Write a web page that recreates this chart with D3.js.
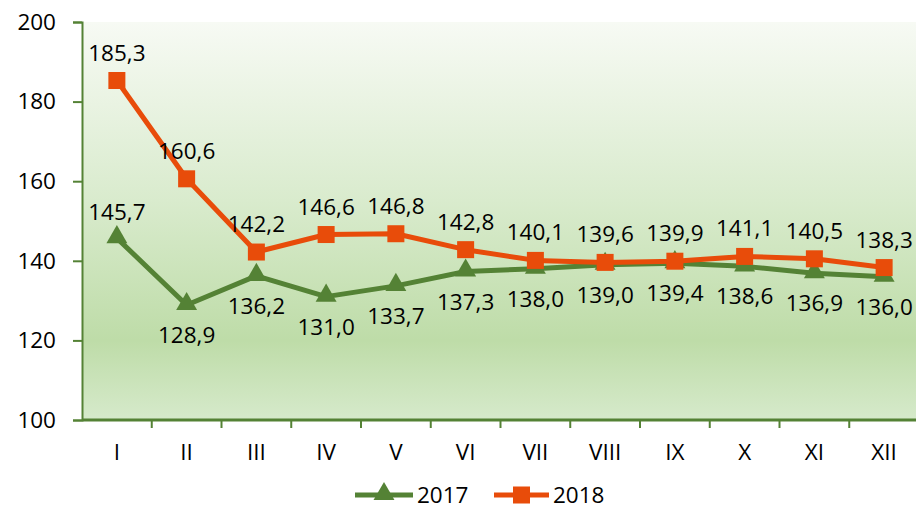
<!DOCTYPE html>
<html>
<head>
<meta charset="utf-8">
<script src="https://cdn.jsdelivr.net/npm/d3@7"></script>
<style>
  body { margin: 0; background: #fff; }
  svg { display: block; }
  svg text { font-family: "Open Sans", "Liberation Sans", sans-serif; fill: #000; }
</style>
</head>
<body>
<svg id="chart" width="916" height="510"></svg>
<script>
// data
var months = ["I", "II", "III", "IV", "V", "VI", "VII", "VIII", "IX", "X", "XI", "XII"];
var values2017 = [145.7, 128.9, 136.2, 131.0, 133.7, 137.3, 138.0, 139.0, 139.4, 138.6, 136.9, 136.0];
var values2018 = [185.3, 160.6, 142.2, 146.6, 146.8, 142.8, 140.1, 139.6, 139.9, 141.1, 140.5, 138.3];
var yTicks = [100, 120, 140, 160, 180, 200];

var green = "#548235", orange = "#e84c0a";
var fs = 22.5;

var svg = d3.select("#chart");
var plotLeft = 82, plotRight = 919, plotTop = 22, plotBottom = 420;

var x = d3.scaleBand().domain(months).range([plotLeft, plotRight]);
var y = d3.scaleLinear().domain([100, 200]).range([plotBottom, plotTop]);

// plot background gradient
var defs = svg.append("defs");
var grad = defs.append("linearGradient").attr("id", "bg")
    .attr("x1", 0).attr("y1", 0).attr("x2", 0).attr("y2", 1);
grad.append("stop").attr("offset", "0%").attr("stop-color", "#f7faf4");
grad.append("stop").attr("offset", "45%").attr("stop-color", "#d9ebcd");
grad.append("stop").attr("offset", "80%").attr("stop-color", "#bedca8");
grad.append("stop").attr("offset", "100%").attr("stop-color", "#d6eacb");

svg.append("rect")
    .attr("x", plotLeft).attr("y", plotTop)
    .attr("width", plotRight - plotLeft).attr("height", plotBottom - plotTop)
    .attr("fill", "url(#bg)");

// y axis
var yAxis = svg.append("g")
    .attr("transform", "translate(" + plotLeft + ",0)")
    .call(d3.axisLeft(y).tickValues(yTicks).tickSize(9).tickPadding(17));
yAxis.select(".domain").attr("stroke", green).attr("stroke-width", 2);
yAxis.selectAll(".tick line").attr("stroke", green).attr("stroke-width", 2);
yAxis.selectAll("text").attr("font-size", fs).attr("fill", "#000");

// x axis - ticks between categories
var xAxis = svg.append("g")
    .attr("transform", "translate(0," + plotBottom + ")");
xAxis.append("line")
    .attr("x1", plotLeft).attr("x2", plotRight)
    .attr("stroke", green).attr("stroke-width", 3);
xAxis.selectAll(".tk")
    .data(months.slice(1))
    .enter().append("line")
    .attr("x1", function (d) { return x(d); })
    .attr("x2", function (d) { return x(d); })
    .attr("y1", 0).attr("y2", 8)
    .attr("stroke", green).attr("stroke-width", 2);
xAxis.selectAll(".lb")
    .data(months)
    .enter().append("text")
    .attr("x", function (d) { return x(d) + x.bandwidth() / 2; })
    .attr("y", 40)
    .attr("text-anchor", "middle")
    .attr("font-size", fs)
    .text(function (d) { return d; });

var cx = function (d, i) { return x(months[i]) + x.bandwidth() / 2; };
var line = d3.line()
    .x(function (d, i) { return cx(d, i); })
    .y(function (d) { return y(d); });

var fmt = function (v) { return v.toFixed(1).replace(".", ","); };

// 2017 series
svg.append("path")
    .datum(values2017)
    .attr("d", line)
    .attr("fill", "none")
    .attr("stroke", green)
    .attr("stroke-width", 5)
    .attr("stroke-linejoin", "round");
svg.selectAll(".tri")
    .data(values2017)
    .enter().append("path")
    .attr("d", d3.symbol().type(d3.symbolTriangle).size(190))
    .attr("transform", function (d, i) { return "translate(" + cx(d, i) + "," + (y(d) - 1) + ")"; })
    .attr("fill", green);

// 2018 series
svg.append("path")
    .datum(values2018)
    .attr("d", line)
    .attr("fill", "none")
    .attr("stroke", orange)
    .attr("stroke-width", 5)
    .attr("stroke-linejoin", "round");
svg.selectAll(".sq")
    .data(values2018)
    .enter().append("rect")
    .attr("x", function (d, i) { return cx(d, i) - 8.5; })
    .attr("y", function (d) { return y(d) - 8.5; })
    .attr("width", 17).attr("height", 17)
    .attr("fill", orange);

// data labels
svg.selectAll(".l2018")
    .data(values2018)
    .enter().append("text")
    .attr("x", function (d, i) { return cx(d, i); })
    .attr("y", function (d) { return y(d) - 20; })
    .attr("text-anchor", "middle")
    .attr("font-size", fs)
    .text(fmt);

svg.selectAll(".l2017")
    .data(values2017)
    .enter().append("text")
    .attr("x", function (d, i) { return cx(d, i); })
    .attr("y", function (d, i) { return i === 0 ? y(d) - 18 : y(d) + 38; })
    .attr("text-anchor", "middle")
    .attr("font-size", fs)
    .text(fmt);

// legend
var legend = svg.append("g").attr("transform", "translate(0,495)");
legend.append("line").attr("x1", 355).attr("x2", 413).attr("stroke", green).attr("stroke-width", 5);
legend.append("path")
    .attr("d", d3.symbol().type(d3.symbolTriangle).size(190))
    .attr("transform", "translate(384,-1)")
    .attr("fill", green);
legend.append("text").attr("x", 417).attr("y", 8).attr("font-size", fs).text("2017");
legend.append("line").attr("x1", 494).attr("x2", 549).attr("stroke", orange).attr("stroke-width", 5);
legend.append("rect").attr("x", 513).attr("y", -8.5).attr("width", 17).attr("height", 17).attr("fill", orange);
legend.append("text").attr("x", 553).attr("y", 8).attr("font-size", fs).text("2018");
</script>
</body>
</html>
